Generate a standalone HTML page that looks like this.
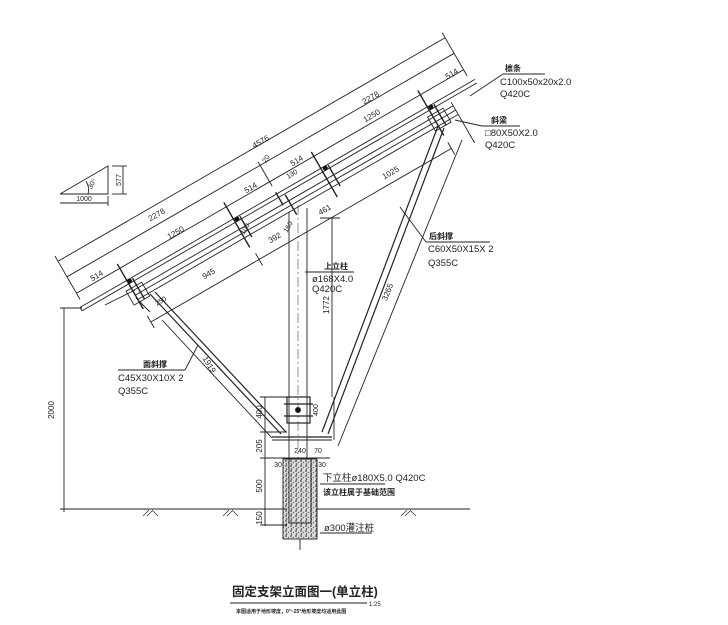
<!DOCTYPE html>
<html><head><meta charset="utf-8"><style>
html,body{margin:0;padding:0;background:#fff;}
svg{display:block;}
text{font-family:"Liberation Sans","Noto Sans CJK SC",sans-serif;fill:#222;}
</style></head><body>
<svg width="728" height="625" viewBox="0 0 728 625" xmlns="http://www.w3.org/2000/svg">
<defs>
<pattern id="dots" width="5" height="5" patternUnits="userSpaceOnUse">
<rect width="5" height="5" fill="#ddd"/>
<circle cx="1" cy="1" r="0.9" fill="#444"/><circle cx="3.5" cy="2.5" r="0.7" fill="#666"/><circle cx="1.5" cy="4" r="0.8" fill="#333"/>
</pattern>
</defs>
<g stroke="#222" stroke-width="0.9" fill="none">
<g transform="translate(85,308) rotate(-30)">
 <line x1="-4" y1="-3" x2="452" y2="-3"/>
 <line x1="-4" y1="1" x2="452" y2="1"/>
 <line x1="-4" y1="-3" x2="-4" y2="1"/>
 <line x1="50" y1="9" x2="420" y2="9"/>
 <line x1="50" y1="14" x2="420" y2="14"/>
 <line x1="50" y1="19" x2="420" y2="19"/>
 <line x1="0" y1="-54" x2="447" y2="-54"/>
 <line x1="0" y1="-36" x2="447" y2="-36"/>
 <line x1="0" y1="-17" x2="447" y2="-17"/>
 <line x1="50" y1="45" x2="397" y2="45"/>
 <line x1="0" y1="-60" x2="0" y2="-10"/>
 <line x1="447" y1="-60" x2="447" y2="-10"/>
 <line x1="223" y1="-40" x2="223" y2="-12"/>
 <g stroke-width="1.4">
 <line x1="50" y1="-22" x2="50" y2="30"/>
 <line x1="173" y1="-22" x2="173" y2="30"/>
 <line x1="274" y1="-22" x2="274" y2="30"/>
 <line x1="397" y1="-22" x2="397" y2="30"/>
 <line x1="56" y1="-2" x2="56" y2="22"/>
 <line x1="180" y1="-2" x2="180" y2="22"/>
 <line x1="282" y1="-2" x2="282" y2="22"/>
 <line x1="404" y1="-2" x2="404" y2="22"/>
 <line x1="223" y1="-5" x2="223" y2="10"/>
 <line x1="230" y1="2" x2="230" y2="25"/>
 </g>
 <line x1="175" y1="38" x2="175" y2="52"/>
 <line x1="397" y1="38" x2="397" y2="52"/>
 <line x1="50" y1="38" x2="50" y2="52"/>
 <line x1="420" y1="5" x2="420" y2="52"/>
 <g fill="#111" stroke="none">
 <circle cx="52" cy="-1" r="2.5"/><circle cx="176" cy="-1" r="2.5"/><circle cx="278" cy="-1" r="2.5"/><circle cx="400" cy="-1" r="2.5"/>
 </g>
 <rect x="44" y="6" width="18" height="16"/>
 <rect x="392" y="6" width="18" height="16"/>
</g>
<line x1="289" y1="212" x2="289" y2="459"/>
<line x1="307" y1="208" x2="307" y2="459"/>
<line x1="298" y1="205" x2="298" y2="459" stroke-dasharray="10 3 2 3" stroke-width="0.5"/>
<line x1="332" y1="218" x2="332" y2="397"/>
<line x1="320" y1="218" x2="340" y2="218"/>
<rect x="287" y="397" width="23" height="26" stroke-width="1.2"/>
<line x1="284" y1="404" x2="313" y2="404" stroke-width="1.2"/>
<line x1="284" y1="416" x2="313" y2="416" stroke-width="1.2"/>
<circle cx="298" cy="410" r="2.5" fill="#111"/>
<line x1="272" y1="437" x2="332" y2="437" stroke-width="1.2"/>
<line x1="272" y1="440" x2="332" y2="440"/>
<line x1="150" y1="294" x2="281" y2="434" stroke-width="1.2"/>
<line x1="155" y1="292" x2="286" y2="432" stroke-width="1.2"/>
<line x1="162" y1="320" x2="272" y2="438"/>
<line x1="136" y1="298" x2="150" y2="312"/>
<line x1="105" y1="305" x2="135" y2="290"/>
<line x1="438" y1="126" x2="322" y2="432" stroke-width="1.2"/>
<line x1="444" y1="128" x2="328" y2="434" stroke-width="1.2"/>
<line x1="462" y1="140" x2="338" y2="446"/>
<line x1="470" y1="96" x2="503" y2="74"/><line x1="503" y1="74" x2="545" y2="74"/>
<line x1="455" y1="120" x2="482" y2="126"/><line x1="482" y1="126" x2="520" y2="126"/>
<line x1="400" y1="207" x2="426" y2="242"/><line x1="426" y1="242" x2="490" y2="242"/>
<line x1="305" y1="272" x2="354" y2="272"/>
<line x1="198" y1="345" x2="185" y2="370"/><line x1="118" y1="370" x2="185" y2="370"/>
<line x1="320" y1="484" x2="385" y2="484"/>
<line x1="320" y1="533" x2="372" y2="533"/>
<polyline points="60,194 108,194 108,166 60,194"/>
<line x1="60" y1="203" x2="108" y2="203"/><line x1="108" y1="196" x2="108" y2="206"/>
<line x1="123" y1="166" x2="123" y2="194"/><line x1="112" y1="166" x2="127" y2="166"/><line x1="112" y1="194" x2="127" y2="194"/>
<path d="M86,181 Q90,188 88,194"/>
<line x1="64" y1="308" x2="64" y2="512"/>
<line x1="60" y1="308" x2="82" y2="308"/>
<line x1="60" y1="509" x2="470" y2="509"/>
<path d="M143,516 l6,-6 M147,516 l6,-6 M152,510 l6,6 M223,516 l6,-6 M227,516 l6,-6 M232,510 l6,6 M401,516 l6,-6 M405,516 l6,-6 M410,510 l6,6" stroke-width="0.7"/>
<rect x="283" y="459" width="34" height="80" fill="url(#dots)"/>
<rect x="289" y="459" width="22" height="64"/>
<line x1="300" y1="539" x2="300" y2="550"/>
<line x1="265" y1="397" x2="265" y2="526"/>
<line x1="260" y1="397" x2="287" y2="397"/><line x1="260" y1="432" x2="287" y2="432"/><line x1="260" y1="458" x2="287" y2="458"/><line x1="260" y1="509" x2="287" y2="509"/><line x1="260" y1="525" x2="287" y2="525"/>
<line x1="271" y1="458" x2="330" y2="458"/>
<line x1="334" y1="397" x2="334" y2="440"/>
</g>
<g font-size="8">
<g transform="translate(262,144) rotate(-30)"><text text-anchor="middle">4576</text></g>
<g transform="translate(158,217) rotate(-30)"><text text-anchor="middle">2278</text></g>
<g transform="translate(372,100) rotate(-30)"><text text-anchor="middle">2278</text></g>
<g transform="translate(177,235) rotate(-30)"><text text-anchor="middle">1250</text></g>
<g transform="translate(373,118) rotate(-30)"><text text-anchor="middle">1250</text></g>
<g transform="translate(98,278) rotate(-30)"><text text-anchor="middle">514</text></g>
<g transform="translate(252,190) rotate(-30)"><text text-anchor="middle">514</text></g>
<g transform="translate(298,163) rotate(-30)"><text text-anchor="middle">514</text></g>
<g transform="translate(453,76) rotate(-30)"><text text-anchor="middle">514</text></g>
<g transform="translate(210,276) rotate(-30)"><text text-anchor="middle">945</text></g>
<g transform="translate(276,240) rotate(-30)"><text text-anchor="middle">392</text></g>
<g transform="translate(326,212) rotate(-30)"><text text-anchor="middle">461</text></g>
<g transform="translate(392,175) rotate(-30)"><text text-anchor="middle">1025</text></g>
<g transform="translate(268,160) rotate(-60)"><text text-anchor="middle" font-size="7">20</text></g>
<g transform="translate(293,176) rotate(-30)"><text text-anchor="middle" font-size="7">130</text></g>
<g transform="translate(247,230) rotate(-60)"><text text-anchor="middle" font-size="7">100</text></g>
<g transform="translate(290,228) rotate(-60)"><text text-anchor="middle" font-size="7">160</text></g>
<g transform="translate(162,303) rotate(-30)"><text text-anchor="middle" font-size="7">250</text></g>
<g transform="translate(329,305) rotate(-90)"><text text-anchor="middle">1772</text></g>
<g transform="translate(390,293) rotate(-68)"><text text-anchor="middle">3265</text></g>
<g transform="translate(207,366) rotate(58)"><text text-anchor="middle">1919</text></g>
<g transform="translate(54,410) rotate(-90)"><text text-anchor="middle">2000</text></g>
<g transform="translate(94,185) rotate(-60)"><text text-anchor="middle" font-size="7">30°</text></g>
<text x="84" y="201" text-anchor="middle" font-size="7">1000</text>
<g transform="translate(121,180) rotate(-90)"><text text-anchor="middle" font-size="7">577</text></g>
<g transform="translate(262,412) rotate(-90)"><text text-anchor="middle">400</text></g>
<g transform="translate(262,446) rotate(-90)"><text text-anchor="middle">205</text></g>
<g transform="translate(262,486) rotate(-90)"><text text-anchor="middle">500</text></g>
<g transform="translate(262,518) rotate(-90)"><text text-anchor="middle">150</text></g>
<g transform="translate(318,410) rotate(-90)"><text text-anchor="middle" font-size="7">400</text></g>
<text x="278" y="467" text-anchor="middle" font-size="7">30</text>
<text x="300" y="453" text-anchor="middle" font-size="7">240</text>
<text x="318" y="453" text-anchor="middle" font-size="7">70</text>
<text x="322" y="467" text-anchor="middle" font-size="7">30</text>
</g>
<g font-size="9.5">
<text x="505" y="71" font-size="8" font-weight="bold">檩条</text>
<text x="500" y="85">C100x50x20x2.0</text>
<text x="500" y="97">Q420C</text>
<text x="491" y="123" font-size="8" font-weight="bold">斜梁</text>
<text x="485" y="136">□80X50X2.0</text>
<text x="485" y="148">Q420C</text>
<text x="429" y="239" font-size="8" font-weight="bold">后斜撑</text>
<text x="428" y="252">C60X50X15X 2</text>
<text x="428" y="266">Q355C</text>
<text x="324" y="269" font-size="8" font-weight="bold">上立柱</text>
<text x="312" y="282">ø168X4.0</text>
<text x="312" y="292">Q420C</text>
<text x="143" y="367" font-size="8" font-weight="bold">面斜撑</text>
<text x="118" y="381">C45X30X10X 2</text>
<text x="118" y="394">Q355C</text>
<text x="323" y="481">下立柱ø180X5.0 Q420C</text>
<text x="323" y="495" font-size="8" font-weight="bold">该立柱属于基础范围</text>
<text x="324" y="531">ø300灌注桩</text>
</g>
<text x="232" y="596" font-size="12.5" font-weight="bold">固定支架立面图一(单立柱)</text>
<line x1="230" y1="603" x2="367" y2="603" stroke="#222" stroke-width="1"/>
<text x="369" y="606" font-size="6">1:25</text>
<text x="236" y="613" font-size="5" font-weight="bold">本图适用于地形坡度，0°~25°地形坡度均适用此图</text>
</svg>
</body></html>
